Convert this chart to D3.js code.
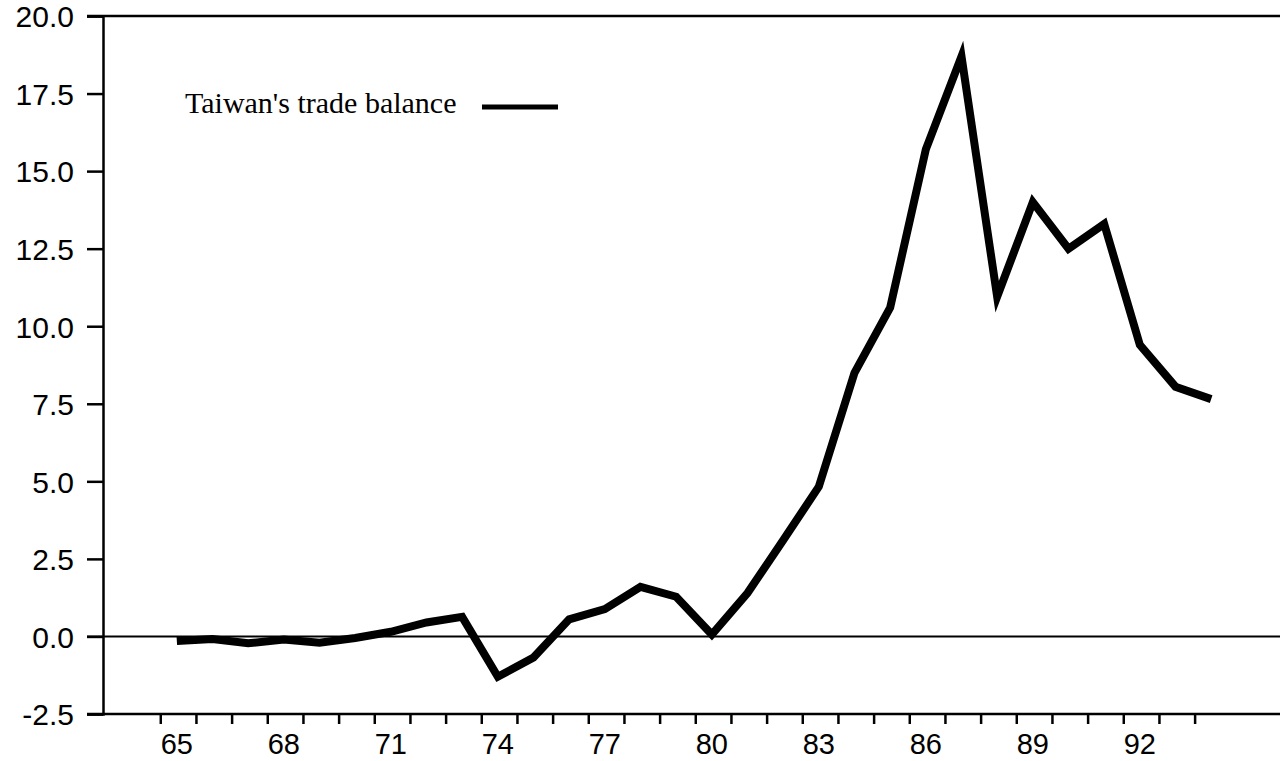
<!DOCTYPE html>
<html>
<head>
<meta charset="utf-8">
<script src="https://cdn.jsdelivr.net/npm/d3@7"></script>
<style>
  html, body { margin: 0; padding: 0; background: #fff; }
  svg { display: block; }
</style>
</head>
<body>
<div id="chart"></div>
<script>
const width = 1280;
const height = 761;

// data
const years = [65, 66, 67, 68, 69, 70, 71, 72, 73, 74, 75, 76, 77, 78, 79,
               80, 81, 82, 83, 84, 85, 86, 87, 88, 89, 90, 91, 92, 93, 94];
const balance = [-0.15, -0.08, -0.22, -0.1, -0.2, -0.05, 0.15, 0.45, 0.63, -1.3,
                 -0.68, 0.55, 0.88, 1.6, 1.28, 0.06, 1.4, 3.1, 4.83, 8.5,
                 10.6, 15.7, 18.7, 10.95, 14.0, 12.5, 13.3, 9.4, 8.05, 7.65];
const yTicks = [-2.5, 0, 2.5, 5, 7.5, 10, 12.5, 15, 17.5, 20];
const xLabels = [65, 68, 71, 74, 77, 80, 83, 86, 89, 92];
const seriesName = "Taiwan's trade balance";

const data = years.map((yr, i) => ({ year: yr, value: balance[i] }));

const svg = d3.select("#chart")
    .append("svg")
    .attr("width", width)
    .attr("height", height);

const x = d3.scaleLinear()
    .domain([62.93, 95.93])
    .range([103, 1280]);

const y = d3.scaleLinear()
    .domain([-2.5, 20])
    .range([714, 16]);

const axisFont = "'Liberation Sans', Arial, Helvetica, sans-serif";

// y axis with ticks and labels (plain hyphen for the minus sign)
const yAxis = svg.append("g")
    .attr("transform", "translate(103,0)")
    .call(d3.axisLeft(y).tickValues(yTicks).tickSize(16).tickPadding(13)
        .tickFormat(d => d.toFixed(1)));
yAxis.select(".domain").attr("stroke", "#000").attr("stroke-width", 2.5);
yAxis.selectAll(".tick line").attr("stroke", "#000").attr("stroke-width", 2.5);
yAxis.selectAll(".tick text")
    .attr("fill", "#000")
    .style("font-family", axisFont)
    .style("font-size", "30px")
    .attr("dy", "0.36em");

// top border
svg.append("line")
    .attr("x1", 87).attr("x2", width)
    .attr("y1", y(20)).attr("y2", y(20))
    .attr("stroke", "#000").attr("stroke-width", 2.5);

// bottom axis line
svg.append("line")
    .attr("x1", 87).attr("x2", width)
    .attr("y1", y(-2.5)).attr("y2", y(-2.5))
    .attr("stroke", "#000").attr("stroke-width", 2.5);

// zero line
svg.append("line")
    .attr("x1", 87).attr("x2", width)
    .attr("y1", y(0)).attr("y2", y(0))
    .attr("stroke", "#000").attr("stroke-width", 2);

// x ticks sit between years, labels on every third year
const xAxis = svg.append("g")
    .attr("transform", "translate(0," + y(-2.5) + ")");

xAxis.selectAll("line.xtick")
    .data(years)
    .join("line")
    .attr("class", "xtick")
    .attr("x1", d => x(d - 0.45)).attr("x2", d => x(d - 0.45))
    .attr("y1", 0).attr("y2", 10)
    .attr("stroke", "#000").attr("stroke-width", 2.5);

xAxis.selectAll("text.xlabel")
    .data(xLabels)
    .join("text")
    .attr("class", "xlabel")
    .attr("x", d => x(d))
    .attr("y", 40)
    .attr("text-anchor", "middle")
    .style("font-family", axisFont)
    .style("font-size", "29px")
    .text(d => d);

// the series
const line = d3.line()
    .x(d => x(d.year))
    .y(d => y(d.value));

svg.append("path")
    .datum(data)
    .attr("d", line)
    .attr("fill", "none")
    .attr("stroke", "#000")
    .attr("stroke-width", 8)
    .attr("stroke-linejoin", "miter")
    .attr("stroke-miterlimit", 10);

// legend
const legend = svg.append("g");
legend.append("text")
    .attr("x", 185)
    .attr("y", 113)
    .style("font-family", "'Liberation Serif', 'Times New Roman', serif")
    .style("font-size", "30px")
    .text(seriesName);
legend.append("line")
    .attr("x1", 482).attr("x2", 558)
    .attr("y1", 107).attr("y2", 107)
    .attr("stroke", "#000").attr("stroke-width", 5);
</script>
</body>
</html>
